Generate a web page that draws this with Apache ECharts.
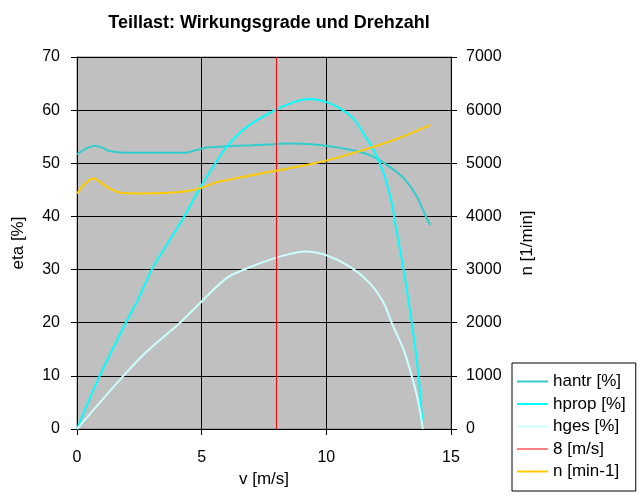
<!DOCTYPE html>
<html>
<head>
<meta charset="utf-8">
<script src="https://cdn.jsdelivr.net/npm/echarts@6/dist/echarts.min.js"></script>
<style>
html,body{margin:0;padding:0;background:#fff;}
#c{width:639px;height:498px;}
</style>
</head>
<body>
<div id="c"></div>
<script>
const titleText = 'Teillast: Wirkungsgrade und Drehzahl';
const xTicks = [0, 5, 10, 15];
const etaTicks = [0, 10, 20, 30, 40, 50, 60, 70];
const nTicks = [0, 1000, 2000, 3000, 4000, 5000, 6000, 7000];

const hantrV   = [0, 0.35, 0.7, 1.0, 1.3, 1.97, 3.0, 4.38, 4.78, 5.3, 6.0, 7.0, 7.9, 8.6, 9.35, 10.0, 10.56, 11.23, 11.9, 12.43, 13.1, 13.63, 14.03, 14.17];
const hantrEta = [51.7, 52.7, 53.3, 53.0, 52.3, 52.0, 52.0, 52.0, 52.5, 53.0, 53.2, 53.4, 53.6, 53.7, 53.6, 53.3, 52.9, 52.3, 51.2, 49.7, 47.2, 43.7, 39.6, 38.4];

const hpropV   = [0, 0.9, 1.95, 2.44, 3.07, 4.14, 5.0, 5.5, 6.0, 6.8, 7.9, 8.7, 9.35, 10.0, 10.56, 11.09, 11.49, 11.9, 12.3, 12.6, 12.75, 13.1, 13.43, 13.7, 13.87];
const hpropEta = [0, 9.9, 19.9, 24.3, 30.6, 38.7, 45.9, 49.6, 53.1, 56.8, 59.9, 61.5, 62.1, 61.5, 60.3, 58.4, 55.6, 52.5, 48.1, 43.0, 39.0, 29.9, 19.9, 9.9, 0];

const hgesV   = [0, 1.84, 2.8, 4.11, 5.0, 6.0, 6.8, 7.9, 8.6, 9.15, 10.0, 10.96, 11.75, 12.3, 12.63, 13.1, 13.43, 13.7, 13.87];
const hgesEta = [0, 9.9, 14.6, 19.9, 24.0, 28.4, 30.2, 32.1, 33.0, 33.4, 32.7, 30.5, 27.4, 23.7, 19.9, 14.9, 9.9, 4.9, 0];

const markV   = [8, 8];
const markEta = [0, 70];

const nV   = [0, 0.64, 1.3, 1.7, 2.64, 3.7, 4.5, 5.05, 5.58, 6.0, 7.9, 9.49, 10.56, 12.7, 14.17];
const nVal = [4430, 4715, 4527, 4452, 4433, 4445, 4483, 4546, 4640, 4683, 4853, 4997, 5121, 5435, 5717];

const seriesNames = ['hantr [%]', 'hprop [%]', 'hges [%]', '8 [m/s]', 'n [min-1]'];

const zip = (a, b) => a.map((x, i) => [x, b[i]]);
const FONT = '"Liberation Sans", Arial, sans-serif';
const THICK = 'path://M0,0L31,0L31,2L0,2Z';
const THIN = 'path://M0,0L31,0L31,1L0,1Z';

const chart = echarts.init(document.getElementById('c'), null, {renderer: 'canvas'});
const axisCommon = {
  axisLine: {show: true, lineStyle: {color: '#000', width: 1}},
  axisTick: {show: true, length: 6, lineStyle: {color: '#000', width: 1}},
  axisLabel: {color: '#000', fontSize: 16, fontFamily: FONT, formatter: v => String(v)},
  nameTextStyle: {color: '#000', fontSize: 17, fontFamily: FONT}
};
chart.setOption({
  animation: false,
  backgroundColor: '#fff',
  textStyle: {fontFamily: FONT},
  title: {
    text: titleText,
    left: 264, top: 9, textAlign: 'center',
    textStyle: {fontSize: 18, fontWeight: 'bold', color: '#000', fontFamily: FONT}
  },
  grid: {
    left: 77, top: 57, width: 374, height: 372,
    show: true, backgroundColor: '#C0C0C0', borderColor: '#808080', borderWidth: 1
  },
  legend: {
    orient: 'vertical', left: 512, top: 363,
    backgroundColor: '#fff', borderColor: '#000', borderWidth: 1,
    padding: [10, 10, 11, 5],
    itemWidth: 31, itemHeight: 2, itemGap: 5.5,
    textStyle: {fontSize: 17, color: '#000', fontFamily: FONT},
    data: seriesNames.map((n, i) => ({name: n, icon: i === 3 ? THIN : THICK}))
  },
  xAxis: Object.assign({}, axisCommon, {
    type: 'value', min: xTicks[0], max: xTicks[xTicks.length - 1], interval: 5,
    name: 'v [m/s]', nameLocation: 'middle', nameGap: 41,
    axisLabel: Object.assign({}, axisCommon.axisLabel, {margin: 21}),
    splitLine: {show: true, lineStyle: {color: '#000', width: 1}}
  }),
  yAxis: [
    Object.assign({}, axisCommon, {
      type: 'value', min: etaTicks[0], max: etaTicks[etaTicks.length - 1], interval: 10,
      position: 'left', name: 'eta [%]', nameLocation: 'middle', nameGap: 50, nameRotate: 90,
      axisLabel: Object.assign({}, axisCommon.axisLabel, {margin: 17}),
      splitLine: {show: true, lineStyle: {color: '#000', width: 1}}
    }),
    Object.assign({}, axisCommon, {
      type: 'value', min: nTicks[0], max: nTicks[nTicks.length - 1], interval: 1000,
      position: 'right', name: 'n [1/min]', nameLocation: 'middle', nameGap: 68, nameRotate: 90,
      axisLabel: Object.assign({}, axisCommon.axisLabel, {margin: 15}),
      splitLine: {show: false}
    })
  ],
  series: [
    {name: seriesNames[0], type: 'line', data: zip(hantrV, hantrEta), symbol: 'none', smooth: 0.3,
     lineStyle: {color: '#33CCCC', width: 2}, itemStyle: {color: '#33CCCC'}},
    {name: seriesNames[1], type: 'line', data: zip(hpropV, hpropEta), symbol: 'none', smooth: 0.3,
     lineStyle: {color: '#00FFFF', width: 2}, itemStyle: {color: '#00FFFF'}},
    {name: seriesNames[2], type: 'line', data: zip(hgesV, hgesEta), symbol: 'none', smooth: 0.3,
     lineStyle: {color: '#CCFFFF', width: 2}, itemStyle: {color: '#CCFFFF'}},
    {name: seriesNames[3], type: 'line', data: zip(markV, markEta), symbol: 'none',
     lineStyle: {color: '#FF0000', width: 1}, itemStyle: {color: '#FF0000'}},
    {name: seriesNames[4], type: 'line', yAxisIndex: 1, data: zip(nV, nVal), symbol: 'none', smooth: 0.3,
     lineStyle: {color: '#FFCC00', width: 2}, itemStyle: {color: '#FFCC00'}}
  ]
});
</script>
</body>
</html>
